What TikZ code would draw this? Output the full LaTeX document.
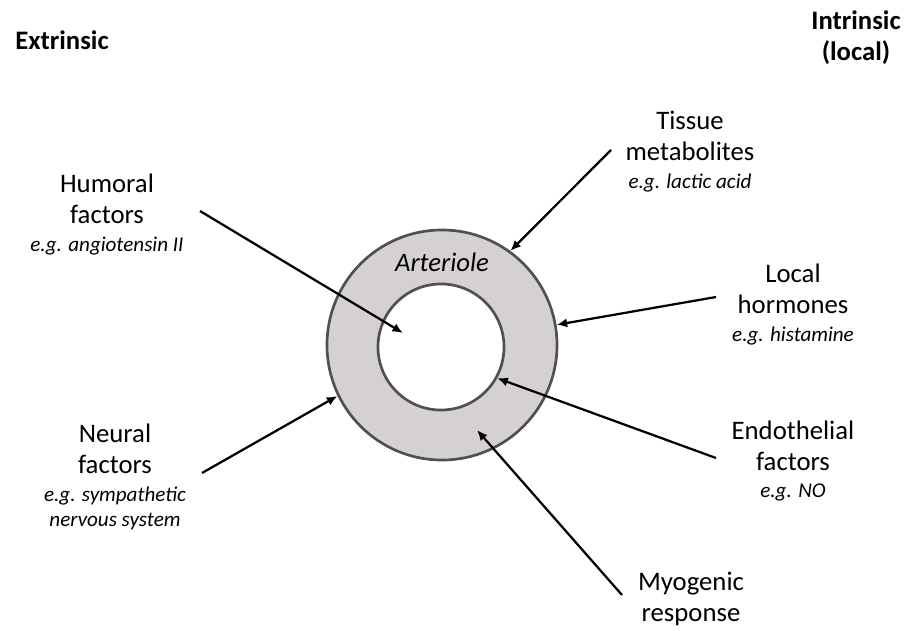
\documentclass[tikz,border=0pt]{standalone}
\usepackage{fontspec}
\setmainfont{Carlito}
\usetikzlibrary{positioning,arrows.meta}
\definecolor{wallgrey}{RGB}{214,209,209}
\definecolor{rimgrey}{RGB}{80,80,80}

\begin{document}
\begin{tikzpicture}[x=0.025cm, y=-0.025cm, node distance={9pt},
  factor/.style = {align=center, inner sep=0pt, font=\fontsize{19}{22}\selectfont},
  eg/.style = {align=center, inner sep=0pt, font=\fontsize{15}{17.5}\selectfont\itshape},
  side/.style = {align=center, inner sep=0pt, font=\fontsize{19}{22}\selectfont\bfseries},
  wall/.style = {draw=rimgrey, line width=1.9pt, circle, inner sep=0pt},
  link/.style = {line width=1.6pt, -{Latex[length=7.5pt,width=6.5pt]}}]
\useasboundingbox (0,0) rectangle (908,631);

\node[side] (ext) at (62,40) {Extrinsic};
\node[side] (int) at (856,38) {Intrinsic\\(local)};

\node[wall, fill=wallgrey, minimum size=5.75cm] (outer) at (442,345) {};
\node[wall, fill=white, minimum size=3.15cm] (lumen) at (441,347) {};
\node[font=\fontsize{19}{22}\selectfont\itshape] (art) at (442,262) {Arteriole};

\node[factor] (hum) at (107,199) {Humoral\\factors};
\node[eg] (humeg) [below=of hum] {e.g. angiotensin II};
\node[factor] (neu) at (115,449) {Neural\\factors};
\node[eg] (neueg) [below=of neu] {e.g. sympathetic\\nervous system};
\node[factor] (tis) at (690,136) {Tissue\\metabolites};
\node[eg] (tiseg) [below=of tis] {e.g. lactic acid};
\node[factor] (loc) at (793,289) {Local\\hormones};
\node[eg] (loceg) [below=of loc] {e.g. histamine};
\node[factor] (endo) at (793,446) {Endothelial\\factors};
\node[eg] (endoeg) [below=of endo] {e.g. NO};
\node[factor] (myo) at (691,599) {Myogenic\\response};

\coordinate (humtail) at (200,211);
\coordinate (humtip) at (403,333);
\coordinate (neutail) at (202,473);
\coordinate (tistail) at (611,150);
\coordinate (loctail) at (716,297);
\coordinate (endotail) at (716,458);
\coordinate (myotail) at (622,595);
\coordinate (myotip) at (477,430);

\draw[link] (humtail) -- (humtip);
\draw[link] (neutail) -- (outer.206);
\draw[link] (tistail) -- (outer.54);
\draw[link] (loctail) -- (outer.10);
\draw[link] (endotail) -- (lumen.-29);
\draw[link] (myotail) -- (myotip);

\end{tikzpicture}
\end{document}
